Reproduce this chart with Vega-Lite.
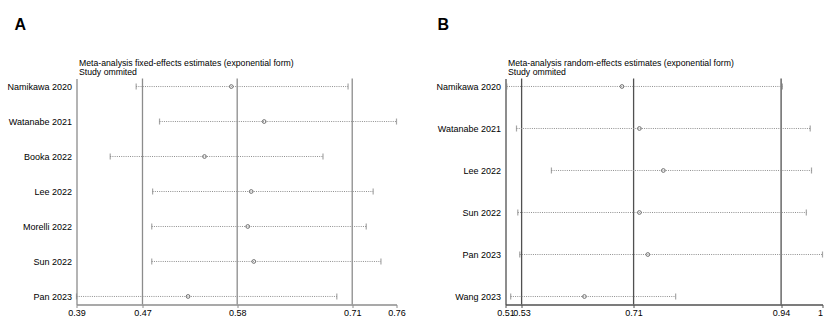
{
  "$schema": "https://vega.github.io/schema/vega-lite/v6.json",
  "padding": {"left": 6.5, "top": 16.5, "right": 0, "bottom": 0},
  "spacing": 109,
  "bounds": "flush",
  "config": {"view": {"stroke": null}, "font": "Liberation Sans"},
  "datasets": {
    "A": [
      {"study": "Namikawa 2020", "lower": 0.459, "est": 0.569, "upper": 0.704},
      {"study": "Watanabe 2021", "lower": 0.486, "est": 0.607, "upper": 0.76},
      {"study": "Booka 2022", "lower": 0.429, "est": 0.538, "upper": 0.675},
      {"study": "Lee 2022", "lower": 0.478, "est": 0.592, "upper": 0.733},
      {"study": "Morelli 2022", "lower": 0.477, "est": 0.588, "upper": 0.725},
      {"study": "Sun 2022", "lower": 0.477, "est": 0.595, "upper": 0.742},
      {"study": "Pan 2023", "lower": 0.39, "est": 0.519, "upper": 0.691}
    ],
    "refA": [{"v": 0.4663}, {"v": 0.5758}, {"v": 0.7088}],
    "B": [
      {"study": "Namikawa 2020", "lower": 0.512, "est": 0.69, "upper": 0.938},
      {"study": "Watanabe 2021", "lower": 0.527, "est": 0.717, "upper": 0.981},
      {"study": "Lee 2022", "lower": 0.581, "est": 0.754, "upper": 0.983},
      {"study": "Sun 2022", "lower": 0.529, "est": 0.717, "upper": 0.975},
      {"study": "Pan 2023", "lower": 0.532, "est": 0.73, "upper": 1.0},
      {"study": "Wang 2023", "lower": 0.518, "est": 0.632, "upper": 0.773}
    ],
    "refB": [{"v": 0.5349}, {"v": 0.708}, {"v": 0.936}]
  },
  "hconcat": [
    {
      "width": 320,
      "height": 226,
      "title": {"text": "A", "anchor": "start", "frame": "group", "fontSize": 16, "fontWeight": "bold", "color": "#000000", "offset": 25.5, "dx": -62, "font": "Liberation Sans"},
      "resolve": {"axis": {"x": "independent"}},
      "layer": [
        {
          "data": {"name": "refA"},
          "mark": {"type": "rule", "color": "#8c8c8c", "strokeWidth": 1.3},
          "encoding": {
            "x": {"field": "v", "type": "quantitative", "scale": {"domain": [0.39, 0.76], "nice": false, "zero": false},
              "axis": {"orient": "bottom", "values": [0.39, 0.4663, 0.5758, 0.7088, 0.76], "format": ".2~f", "title": null, "grid": false, "tickSize": 3, "tickColor": "#8c8c8c", "domainColor": "#8c8c8c", "domainWidth": 1.3, "labelFontSize": 9, "labelColor": "#000000", "labelPadding": 1, "labelFlush": false, "labelOverlap": false}}
          }
        },
        {
          "data": {"name": "A"},
          "mark": {"type": "rule", "strokeDash": [1, 1.2], "color": "#8f8f8f", "strokeWidth": 1},
          "encoding": {
            "y": {"field": "study", "type": "nominal", "sort": null, "scale": {"type": "point", "padding": 0.23},
              "axis": {"title": null, "domain": true, "domainColor": "#8c8c8c", "domainWidth": 1.3, "ticks": false, "labelFontSize": 9, "labelColor": "#000000", "labelPadding": 5, "grid": false}},
            "x": {"field": "lower", "type": "quantitative",
              "axis": {"orient": "top", "labels": false, "ticks": false, "domain": false, "grid": false, "title": ["Meta-analysis fixed-effects estimates (exponential form)", "Study ommited"], "titleAnchor": "start", "titleAlign": "left", "titleBaseline": "alphabetic", "titleFontSize": 8.7, "titleFontWeight": "normal", "titleColor": "#000000", "titleLineHeight": 9, "titleX": 2, "titleY": -13}},
            "x2": {"field": "upper"}
          }
        },
        {
          "data": {"name": "A"},
          "mark": {"type": "tick", "orient": "vertical", "size": 6, "thickness": 1.2, "color": "#808080"},
          "encoding": {
            "y": {"field": "study", "type": "nominal", "sort": null},
            "x": {"field": "lower", "type": "quantitative", "axis": null}
          }
        },
        {
          "data": {"name": "A"},
          "mark": {"type": "tick", "orient": "vertical", "size": 6, "thickness": 1.2, "color": "#808080"},
          "encoding": {
            "y": {"field": "study", "type": "nominal", "sort": null},
            "x": {"field": "upper", "type": "quantitative", "axis": null}
          }
        },
        {
          "data": {"name": "A"},
          "mark": {"type": "point", "shape": "circle", "size": 14, "filled": false, "color": "#6e6e6e", "strokeWidth": 1, "opacity": 1},
          "encoding": {
            "y": {"field": "study", "type": "nominal", "sort": null},
            "x": {"field": "est", "type": "quantitative", "axis": null}
          }
        }
      ]
    },
    {
      "width": 317,
      "height": 226,
      "title": {"text": "B", "anchor": "start", "frame": "group", "fontSize": 16, "fontWeight": "bold", "color": "#000000", "offset": 25.5, "dx": -68, "font": "Liberation Sans"},
      "resolve": {"axis": {"x": "independent"}},
      "layer": [
        {
          "data": {"name": "refB"},
          "mark": {"type": "rule", "color": "#505050", "strokeWidth": 1.3},
          "encoding": {
            "x": {"field": "v", "type": "quantitative", "scale": {"domain": [0.51, 1.0], "nice": false, "zero": false},
              "axis": {"orient": "bottom", "values": [0.51, 0.5349, 0.708, 0.936, 1.0], "format": ".2~f", "title": null, "grid": false, "tickSize": 3, "tickColor": "#505050", "domainColor": "#505050", "domainWidth": 1.3, "labelFontSize": 9, "labelColor": "#000000", "labelPadding": 1, "labelFlush": false, "labelOverlap": false,
                "labelAlign": {"condition": {"test": "datum.value >= 0.999", "value": "right"}, "value": "center"}}}
          }
        },
        {
          "data": {"name": "B"},
          "mark": {"type": "rule", "strokeDash": [1, 1.2], "color": "#8f8f8f", "strokeWidth": 1},
          "encoding": {
            "y": {"field": "study", "type": "nominal", "sort": null, "scale": {"type": "point", "padding": 0.19},
              "axis": {"title": null, "domain": true, "domainColor": "#505050", "domainWidth": 1.3, "ticks": false, "labelFontSize": 9, "labelColor": "#000000", "labelPadding": 5, "grid": false}},
            "x": {"field": "lower", "type": "quantitative",
              "axis": {"orient": "top", "labels": false, "ticks": false, "domain": false, "grid": false, "title": ["Meta-analysis random-effects estimates (exponential form)", "Study ommited"], "titleAnchor": "start", "titleAlign": "left", "titleBaseline": "alphabetic", "titleFontSize": 8.7, "titleFontWeight": "normal", "titleColor": "#000000", "titleLineHeight": 9, "titleX": 2, "titleY": -13}},
            "x2": {"field": "upper"}
          }
        },
        {
          "data": {"name": "B"},
          "mark": {"type": "tick", "orient": "vertical", "size": 6, "thickness": 1.2, "color": "#808080"},
          "encoding": {
            "y": {"field": "study", "type": "nominal", "sort": null},
            "x": {"field": "lower", "type": "quantitative", "axis": null}
          }
        },
        {
          "data": {"name": "B"},
          "mark": {"type": "tick", "orient": "vertical", "size": 6, "thickness": 1.2, "color": "#808080"},
          "encoding": {
            "y": {"field": "study", "type": "nominal", "sort": null},
            "x": {"field": "upper", "type": "quantitative", "axis": null}
          }
        },
        {
          "data": {"name": "B"},
          "mark": {"type": "point", "shape": "circle", "size": 14, "filled": false, "color": "#6e6e6e", "strokeWidth": 1, "opacity": 1},
          "encoding": {
            "y": {"field": "study", "type": "nominal", "sort": null},
            "x": {"field": "est", "type": "quantitative", "axis": null}
          }
        }
      ]
    }
  ]
}
